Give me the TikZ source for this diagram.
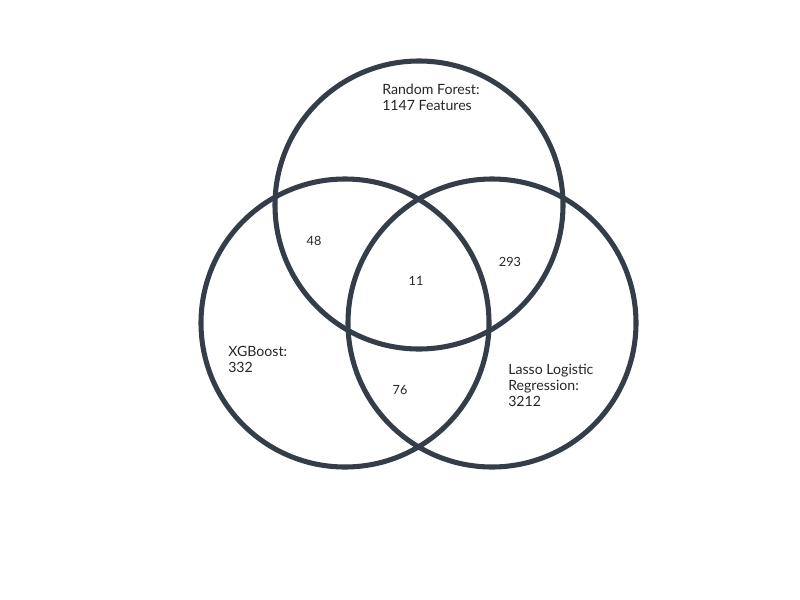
\documentclass[tikz,border=0pt]{standalone}
\usepackage{fontspec}
\setmainfont{Lato}
\usepackage{tikz}
\usetikzlibrary{positioning}
\definecolor{slate}{HTML}{343D48}

\begin{document}
\begin{tikzpicture}[x=0.75pt,y=-0.75pt]
		\tikzstyle{ring} = [draw=slate, line width=3.8pt, shape=circle, minimum size=216pt, inner sep=0]
		\tikzstyle{setlabel} = [align=left, anchor=north west, inner sep=0, font=\fontsize{10.6}{12}\selectfont, text=black!85]
		\tikzstyle{count} = [inner sep=0, font=\fontsize{9.5}{11}\selectfont, text=black!85]
		\useasboundingbox (0,0) rectangle (800,600);
		\node [ring] (v_rf) at (419,205) {};
		\node [ring] (v_xgb) at (345,323) {};
		\node [ring] (v_lasso) at (492,323) {};
		\node [setlabel] (t_rf) at (382,84) {Random Forest:\\1147 Features};
		\node [setlabel] (t_xgb) at (228,346) {XGBoost:\\332};
		\node [setlabel] (t_lasso) at (508,364) {Lasso Logistic\\Regression:\\3212};
		\node [count] (n_rf_xgb) at (314,241) {48};
		\node [count] (n_all) at (416,281) {11};
		\node [count] (n_rf_lasso) at (510,262) {293};
		\node [count] (n_xgb_lasso) at (400,390) {76};
\end{tikzpicture}
\end{document}
